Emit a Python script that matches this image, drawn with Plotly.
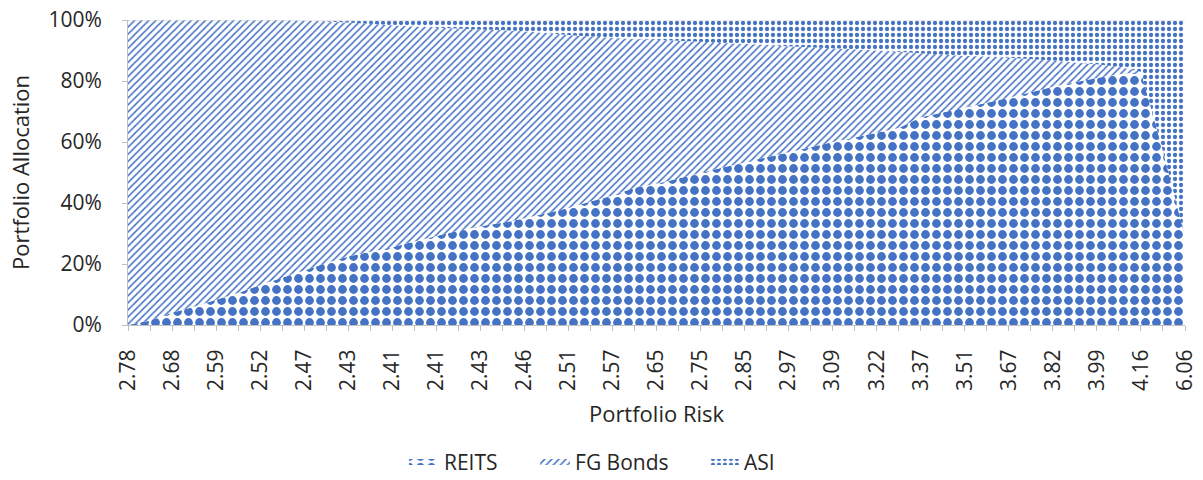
import plotly.graph_objects as go

# Tick labels (every second category point carries a label)
risk_labels = ["2.78", "2.68", "2.59", "2.52", "2.47", "2.43", "2.41", "2.41", "2.43",
               "2.46", "2.51", "2.57", "2.65", "2.75", "2.85", "2.97", "3.09", "3.22",
               "3.37", "3.51", "3.67", "3.82", "3.99", "4.16", "6.06"]
y_ticks = [0, 20, 40, 60, 80, 100]
y_tick_labels = ["0%", "20%", "40%", "60%", "80%", "100%"]

# Allocations (%) at each of the 49 portfolio points
reits = [0.0, 1.5, 4.0, 6.0, 8.3, 10.5, 13.1, 15.5, 17.9, 20.3,
         22.5, 24.0, 25.5, 27.4, 29.2, 30.9, 32.4, 33.5, 35.0, 36.6,
         38.4, 40.5, 42.5, 45.0, 46.3, 48.0, 49.8, 51.6, 53.3, 55.0,
         56.6, 58.3, 60.0, 61.5, 63.0, 64.6, 68.1, 69.7, 71.3, 72.9,
         74.5, 76.3, 78.1, 79.6, 81.0, 82.2, 83.0, 57.0, 29.0]
fg_bonds = [100.0, 98.5, 96.0, 94.0, 91.7, 89.5, 86.9, 84.5, 81.9, 79.2,
            76.7, 74.8, 72.8, 70.5, 68.3, 66.3, 64.5, 63.2, 61.3, 59.1,
            56.7, 54.1, 51.7, 48.8, 47.2, 45.2, 43.1, 40.9, 38.9, 36.8,
            34.8, 32.8, 30.7, 28.9, 27.0, 25.0, 21.0, 19.0, 17.0, 15.1,
            13.1, 10.9, 8.6, 6.5, 4.5, 2.5, 0.0, 0.0, 0.0]
asi = [0.0, 0.0, 0.0, 0.0, 0.0, 0.0, 0.0, 0.0, 0.2, 0.5,
       0.8, 1.2, 1.7, 2.1, 2.5, 2.8, 3.1, 3.3, 3.7, 4.3,
       4.9, 5.4, 5.8, 6.2, 6.5, 6.8, 7.1, 7.5, 7.8, 8.2,
       8.6, 8.9, 9.3, 9.6, 10.0, 10.4, 10.9, 11.3, 11.7, 12.0,
       12.4, 12.8, 13.3, 13.9, 14.5, 15.3, 17.0, 43.0, 71.0]

BLUE = "#4472C4"
AXIS = "#bfbfbf"
TEXT = "#262626"
FONT = "Open Sans"

x = list(range(len(reits)))
ticktext = [risk_labels[i // 2] if i % 2 == 0 else "" for i in x]

fig = go.Figure()
series = [
    ("REITS", reits, dict(shape=".", size=11, solidity=0.5), "legend", 0.2611),
    ("FG Bonds", fg_bonds, dict(shape="/", size=5, solidity=0.3), "legend2", 0.3851),
    ("ASI", asi, dict(shape=".", size=6, solidity=0.4), "legend3", 0.5449),
]
legend_layout = {}
for name, vals, pat, leg, lx in series:
    fig.add_trace(go.Scatter(
        x=x, y=vals, name=name, stackgroup="one", mode="none",
        fillcolor=BLUE,
        fillpattern=dict(fgcolor=BLUE, bgcolor="white", fillmode="replace", **pat),
        hoverinfo="x+y+name", legend=leg,
    ))
    legend_layout[leg] = dict(orientation="h", x=lx, xanchor="left", y=-0.45, yanchor="middle",
                              bgcolor="rgba(0,0,0,0)",
                              font=dict(family=FONT, size=21, color=TEXT))

fig.update_layout(
    width=1203, height=480,
    template="none",
    paper_bgcolor="white", plot_bgcolor="white",
    margin=dict(l=128, r=18, t=20, b=155, autoexpand=False),
    font=dict(family=FONT, size=21, color=TEXT),
    showlegend=True,
    xaxis=dict(
        range=[0, len(reits) - 1], tickmode="array", tickvals=x, ticktext=ticktext,
        tickangle=-90, ticks="outside", ticklen=5, tickcolor=AXIS, tickwidth=1,
        showline=True, linecolor=AXIS, linewidth=1, showgrid=False, zeroline=False,
        automargin=False, ticklabelstandoff=10,
        tickfont=dict(family=FONT, size=21, color=TEXT),
        title=dict(text="Portfolio Risk", standoff=16,
                   font=dict(family=FONT, size=22, color=TEXT)),
    ),
    yaxis=dict(
        range=[0, 100], tickmode="array", tickvals=y_ticks, ticktext=y_tick_labels,
        ticks="outside", ticklen=5, tickcolor=AXIS, tickwidth=1,
        showline=True, linecolor=AXIS, linewidth=1, showgrid=False, zeroline=False,
        automargin=False, ticklabelstandoff=16,
        tickfont=dict(family=FONT, size=21, color=TEXT),
        title=dict(text="Portfolio Allocation", standoff=12,
                   font=dict(family=FONT, size=22, color=TEXT)),
    ),
    shapes=[dict(type="line", xref="paper", yref="y", x0=0, x1=1, y0=100, y1=100,
                 line=dict(color="#d9d9d9", width=1), layer="above")],
    **legend_layout,
)

fig.write_html("out.html", config={"displayModeBar": False},
               post_script="document.body.style.margin='0';document.body.style.overflow='hidden';")
